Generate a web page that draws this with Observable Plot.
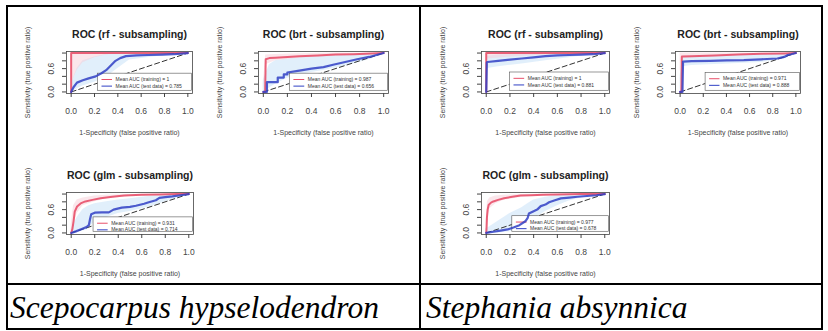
<!DOCTYPE html>
<html>
<head>
<meta charset="utf-8">
<script src="https://cdn.jsdelivr.net/npm/d3@7"></script>
<script src="https://cdn.jsdelivr.net/npm/@observablehq/plot@0.6"></script>
<style>
  html, body { margin: 0; padding: 0; background: #fff; }
  body { width: 828px; height: 331px; position: relative; overflow: hidden; font-family: "Liberation Sans", Arial, sans-serif; }
  .panel { position: absolute; }
  .panel svg { overflow: visible; }
  .hline, .vline { position: absolute; background: #000; }
  .caption { position: absolute; font-family: "Liberation Serif", "Times New Roman", serif; font-style: italic; font-size: 31.5px; line-height: 1; color: #000; white-space: nowrap; }
</style>
</head>
<body>
<div id="root"></div>
<script>
// ---------- text ----------
const species = ["Scepocarpus hypselodendron", "Stephania absynnica"];
const models = ["rf", "brt", "glm"];
const xAxisTitle = "1-Specificity (false positive ratio)";
const yAxisTitle = "Sensitivity (true positive ratio)";
const legendLabels = ["Mean AUC (training) = ", "Mean AUC (test data) = "];
const aucTrain = ["1", "0.987", "0.931", "1", "0.971", "0.977"];
const aucTest = ["0.785", "0.656", "0.714", "0.881", "0.888", "0.678"];

// ---------- ticks ----------
const xTicks = [0, 0.2, 0.4, 0.6, 0.8, 1.0];
const yTicks = [0, 0.2, 0.4, 0.6, 0.8, 1.0];
const yTickLabelValues = [0, 0.6];

// chance line
const chanceFpr = [0, 1];
const chanceTpr = [0, 1];

// ---------- Scepocarpus hypselodendron : rf ----------
const sceRfTrainFpr = [0, 0, 1];
const sceRfTrainTpr = [0, 1, 1];
const sceRfTestFpr = [0, 0.02, 0.05, 0.1, 0.15, 0.21, 0.26, 0.3, 0.34, 0.38, 0.42, 0.47, 0.56, 0.66, 0.78, 0.88, 1];
const sceRfTestTpr = [0, 0.12, 0.24, 0.3, 0.35, 0.4, 0.48, 0.56, 0.68, 0.8, 0.87, 0.92, 0.94, 0.95, 0.96, 0.97, 1];
const sceRfTrainBandFpr = [0, 0.05, 0.1, 0.2, 0.3, 0.4];
const sceRfTrainBandLo = [0.2, 0.55, 0.75, 0.88, 0.95, 1];
const sceRfTrainBandHi = [1, 1, 1, 1, 1, 1];
const sceRfTestBandFpr = [0, 0.05, 0.1, 0.2, 0.3, 0.4, 0.5, 0.7, 1];
const sceRfTestBandLo = [0, 0.08, 0.15, 0.25, 0.38, 0.6, 0.82, 0.9, 1];
const sceRfTestBandHi = [0.2, 0.6, 0.8, 0.9, 0.96, 1, 1, 1, 1];

// ---------- Scepocarpus hypselodendron : brt ----------
const sceBrtTrainFpr = [0, 0.015, 0.02, 0.05, 0.1, 0.2, 0.3, 0.45, 0.6, 0.75, 0.9, 1];
const sceBrtTrainTpr = [0, 0, 0.84, 0.87, 0.88, 0.9, 0.92, 0.94, 0.96, 0.97, 0.99, 1];
const sceBrtTestFpr = [0, 0.03, 0.03, 0.12, 0.12, 0.17, 0.17, 0.2, 0.2, 0.3, 0.4, 0.5, 0.58, 0.68, 0.78, 0.88, 1];
const sceBrtTestTpr = [0, 0, 0.25, 0.25, 0.37, 0.37, 0.45, 0.45, 0.5, 0.55, 0.6, 0.64, 0.7, 0.77, 0.84, 0.9, 1];
const sceBrtTrainBandFpr = [0, 0.02, 0.1, 0.3, 0.6, 1];
const sceBrtTrainBandLo = [0, 0.7, 0.8, 0.87, 0.92, 1];
const sceBrtTrainBandHi = [0.2, 0.95, 0.96, 0.98, 1, 1];
const sceBrtTestBandFpr = [0, 0.05, 0.1, 0.2, 0.3, 0.5, 0.7, 0.9, 1];
const sceBrtTestBandLo = [0, 0.1, 0.2, 0.35, 0.45, 0.55, 0.68, 0.85, 1];
const sceBrtTestBandHi = [0.3, 0.7, 0.8, 0.85, 0.88, 0.92, 0.95, 0.98, 1];

// ---------- Scepocarpus hypselodendron : glm ----------
const sceGlmTrainFpr = [0, 0.01, 0.02, 0.03, 0.05, 0.08, 0.12, 0.18, 0.25, 0.35, 0.45, 0.6, 0.75, 0.9, 1];
const sceGlmTrainTpr = [0, 0.1, 0.3, 0.55, 0.68, 0.76, 0.81, 0.85, 0.89, 0.93, 0.96, 0.98, 0.99, 1, 1];
const sceGlmTestFpr = [0, 0.04, 0.09, 0.13, 0.15, 0.16, 0.17, 0.2, 0.26, 0.32, 0.36, 0.43, 0.5, 0.55, 0.62, 0.66, 0.72, 0.75, 0.8, 0.86, 0.93, 1];
const sceGlmTestTpr = [0, 0.04, 0.1, 0.15, 0.2, 0.35, 0.48, 0.52, 0.53, 0.53, 0.6, 0.65, 0.67, 0.7, 0.75, 0.79, 0.84, 0.9, 0.92, 0.94, 0.97, 1];
const sceGlmTrainBandFpr = [0, 0.02, 0.05, 0.1, 0.2, 0.3, 0.5, 1];
const sceGlmTrainBandLo = [0, 0.2, 0.5, 0.7, 0.8, 0.88, 0.94, 1];
const sceGlmTrainBandHi = [0.2, 0.7, 0.85, 0.9, 0.95, 0.97, 0.99, 1];
const sceGlmTestBandFpr = [0, 0.05, 0.1, 0.15, 0.2, 0.3, 0.4, 0.5, 0.6, 0.7, 0.8, 0.9, 1];
const sceGlmTestBandLo = [0, 0.02, 0.05, 0.1, 0.3, 0.4, 0.5, 0.55, 0.62, 0.7, 0.8, 0.9, 1];
const sceGlmTestBandHi = [0.1, 0.4, 0.6, 0.7, 0.75, 0.8, 0.85, 0.88, 0.92, 0.95, 0.97, 0.99, 1];

// ---------- Stephania absynnica : rf ----------
const steRfTrainFpr = [0, 0, 1];
const steRfTrainTpr = [0, 1, 1];
const steRfTestFpr = [0, 0.005, 0.01, 0.1, 0.2, 0.3, 0.4, 0.5, 0.6, 0.7, 0.8, 0.9, 1];
const steRfTestTpr = [0, 0.76, 0.77, 0.8, 0.83, 0.86, 0.89, 0.92, 0.94, 0.95, 0.96, 0.97, 1];
const steRfTrainBandFpr = [0, 0.01, 0.3, 0.6, 1];
const steRfTrainBandLo = [0.7, 0.85, 0.92, 0.97, 1];
const steRfTrainBandHi = [1, 1, 1, 1, 1];
const steRfTestBandFpr = [0, 0.01, 0.1, 0.3, 0.5, 0.7, 1];
const steRfTestBandLo = [0, 0.6, 0.65, 0.72, 0.8, 0.88, 1];
const steRfTestBandHi = [0.5, 0.92, 0.95, 0.98, 1, 1, 1];

// ---------- Stephania absynnica : brt ----------
const steBrtTrainFpr = [0, 0.01, 0.015, 0.1, 0.3, 0.5, 0.7, 0.9, 1];
const steBrtTrainTpr = [0, 0, 0.91, 0.92, 0.94, 0.96, 0.98, 0.99, 1];
const steBrtTestFpr = [0, 0.02, 0.025, 0.1, 0.26, 0.4, 0.55, 0.7, 0.84, 0.9, 0.93, 0.96, 1];
const steBrtTestTpr = [0, 0, 0.78, 0.79, 0.8, 0.81, 0.82, 0.84, 0.86, 0.9, 0.95, 0.97, 1];
const steBrtTrainBandFpr = [0, 0.015, 0.2, 0.5, 1];
const steBrtTrainBandLo = [0.5, 0.86, 0.9, 0.94, 1];
const steBrtTrainBandHi = [1, 1, 1, 1, 1];
const steBrtTestBandFpr = [0, 0.02, 0.1, 0.4, 0.7, 0.9, 1];
const steBrtTestBandLo = [0, 0.65, 0.68, 0.72, 0.76, 0.85, 1];
const steBrtTestBandHi = [0.4, 0.92, 0.93, 0.95, 0.97, 0.99, 1];

// ---------- Stephania absynnica : glm ----------
const steGlmTrainFpr = [0, 0.003, 0.006, 0.012, 0.02, 0.04, 0.06, 0.1, 0.15, 0.22, 0.29, 0.38, 0.48, 0.6, 0.8, 1];
const steGlmTrainTpr = [0, 0.15, 0.4, 0.6, 0.72, 0.78, 0.81, 0.85, 0.89, 0.93, 0.96, 0.97, 0.98, 0.99, 1, 1];
const steGlmTestFpr = [0, 0.06, 0.12, 0.18, 0.23, 0.28, 0.33, 0.35, 0.36, 0.4, 0.43, 0.46, 0.5, 0.53, 0.58, 0.63, 0.7, 0.77, 0.85, 0.93, 1];
const steGlmTestTpr = [0, 0.03, 0.06, 0.09, 0.14, 0.2, 0.3, 0.39, 0.5, 0.56, 0.6, 0.69, 0.73, 0.79, 0.84, 0.89, 0.91, 0.93, 0.95, 0.97, 1];
const steGlmTrainBandFpr = [0, 0.01, 0.03, 0.08, 0.15, 0.3, 0.5, 1];
const steGlmTrainBandLo = [0, 0.35, 0.62, 0.75, 0.84, 0.92, 0.96, 1];
const steGlmTrainBandHi = [0.3, 0.8, 0.9, 0.95, 0.97, 0.99, 1, 1];
const steGlmTestBandFpr = [0, 0.1, 0.2, 0.3, 0.35, 0.4, 0.5, 0.6, 0.7, 0.8, 0.9, 1];
const steGlmTestBandLo = [0, 0, 0.03, 0.1, 0.2, 0.35, 0.55, 0.7, 0.82, 0.9, 0.95, 1];
const steGlmTestBandHi = [0.1, 0.3, 0.5, 0.65, 0.75, 0.85, 0.92, 0.96, 0.98, 0.99, 1, 1];

// ---------- build ----------
const pts = (xs, ys) => xs.map((x, i) => ({x, y: ys[i]}));
const band = (xs, lo, hi) => xs.map((x, i) => ({x, lo: lo[i], hi: hi[i]}));

const panels = [
  {sp: 0, m: 0, train: pts(sceRfTrainFpr, sceRfTrainTpr), test: pts(sceRfTestFpr, sceRfTestTpr),
   trainBand: band(sceRfTrainBandFpr, sceRfTrainBandLo, sceRfTrainBandHi), testBand: band(sceRfTestBandFpr, sceRfTestBandLo, sceRfTestBandHi)},
  {sp: 0, m: 1, train: pts(sceBrtTrainFpr, sceBrtTrainTpr), test: pts(sceBrtTestFpr, sceBrtTestTpr),
   trainBand: band(sceBrtTrainBandFpr, sceBrtTrainBandLo, sceBrtTrainBandHi), testBand: band(sceBrtTestBandFpr, sceBrtTestBandLo, sceBrtTestBandHi)},
  {sp: 0, m: 2, train: pts(sceGlmTrainFpr, sceGlmTrainTpr), test: pts(sceGlmTestFpr, sceGlmTestTpr),
   trainBand: band(sceGlmTrainBandFpr, sceGlmTrainBandLo, sceGlmTrainBandHi), testBand: band(sceGlmTestBandFpr, sceGlmTestBandLo, sceGlmTestBandHi)},
  {sp: 1, m: 0, train: pts(steRfTrainFpr, steRfTrainTpr), test: pts(steRfTestFpr, steRfTestTpr),
   trainBand: band(steRfTrainBandFpr, steRfTrainBandLo, steRfTrainBandHi), testBand: band(steRfTestBandFpr, steRfTestBandLo, steRfTestBandHi)},
  {sp: 1, m: 1, train: pts(steBrtTrainFpr, steBrtTrainTpr), test: pts(steBrtTestFpr, steBrtTestTpr),
   trainBand: band(steBrtTrainBandFpr, steBrtTrainBandLo, steBrtTrainBandHi), testBand: band(steBrtTestBandFpr, steBrtTestBandLo, steBrtTestBandHi)},
  {sp: 1, m: 2, train: pts(steGlmTrainFpr, steGlmTrainTpr), test: pts(steGlmTestFpr, steGlmTestTpr),
   trainBand: band(steGlmTrainBandFpr, steGlmTrainBandLo, steGlmTrainBandHi), testBand: band(steGlmTestBandFpr, steGlmTestBandLo, steGlmTestBandHi)}
];

// layout (pixel box of each panel frame)
const boxes = [
  {left: 66, top: 51, w: 126}, {left: 258, top: 51, w: 130}, {left: 66, top: 192, w: 127},
  {left: 481, top: 51, w: 128}, {left: 675, top: 51, w: 125}, {left: 481, top: 192, w: 128}
];
const legendPos = [
  {x1: 0.23, top: 0.47}, {x1: 0.22, top: 0.47}, {x1: 0.19, top: 0.4},
  {x1: 0.2, top: 0.5}, {x1: 0.22, top: 0.49}, {x1: 0.22, top: 0.43}
];
const ML = 50, MR = 15, MT = 40, MB = 50, FH = 42;
const RED = "#e8506a", BLUE = "#3040c4";

const root = document.getElementById("root");

panels.forEach((p, i) => {
  const b = boxes[i], lg = legendPos[i];
  const legendRows = [
    {label: legendLabels[0] + aucTrain[i], y: lg.top - 0.15},
    {label: legendLabels[1] + aucTest[i], y: lg.top - 0.32}
  ];
  const chart = Plot.plot({
    width: ML + b.w + MR,
    height: MT + FH + MB,
    marginLeft: ML, marginRight: MR, marginTop: MT, marginBottom: MB,
    style: {background: "transparent", fontFamily: "'Liberation Sans', Arial, sans-serif", overflow: "visible"},
    x: {domain: [-0.04, 1.04]},
    y: {domain: [-0.04, 1.04]},
    marks: [
      Plot.areaY(p.testBand, {x: "x", y1: "lo", y2: "hi", fill: "#cde4f8", fillOpacity: 0.6}),
      Plot.areaY(p.trainBand, {x: "x", y1: "lo", y2: "hi", fill: "#f8cdd7", fillOpacity: 0.5}),
      Plot.line(pts(chanceFpr, chanceTpr), {x: "x", y: "y", stroke: "#333", strokeWidth: 1, strokeDasharray: "5,3"}),
      Plot.rect([lg], {x1: "x1", x2: 1.035, y1: 0.03, y2: "top", fill: "#fff", stroke: "#555", strokeWidth: 0.6}),
      Plot.link(legendRows.slice(0, 1), {x1: lg.x1 + 0.03, x2: lg.x1 + 0.12, y1: "y", y2: "y", stroke: RED, strokeWidth: 1}),
      Plot.link(legendRows.slice(1), {x1: lg.x1 + 0.03, x2: lg.x1 + 0.12, y1: "y", y2: "y", stroke: BLUE, strokeWidth: 1}),
      Plot.text(legendRows, {x: lg.x1 + 0.15, y: "y", text: "label", textAnchor: "start", fontSize: 5, fill: "#333"}),
      Plot.line(p.train, {x: "x", y: "y", stroke: RED, strokeWidth: 2, strokeOpacity: 0.9}),
      Plot.line(p.test, {x: "x", y: "y", stroke: BLUE, strokeWidth: 2.2, strokeOpacity: 0.85}),
      Plot.frame({stroke: "#444", strokeWidth: 0.8}),
      Plot.axisX({ticks: xTicks, tickFormat: d => d.toFixed(1), tickSize: 4, tickPadding: 10, fontSize: 8.5, color: "#444", label: null}),
      Plot.axisY({ticks: yTicks, tickFormat: d => yTickLabelValues.includes(d) ? d.toFixed(1) : "", tickSize: 4, tickPadding: 9, tickRotate: -90, fontSize: 8.5, color: "#444", label: null}),
      Plot.text(["ROC (" + models[p.m] + " - subsampling)"], {frameAnchor: "top", text: d => d, dy: -21, fontSize: 10.5, fontWeight: "bold", fill: "#222"}),
      Plot.text([xAxisTitle], {frameAnchor: "bottom", text: d => d, dy: 41, fontSize: 7, fill: "#444"}),
      Plot.text([yAxisTitle], {frameAnchor: "left", text: d => d, textAnchor: "middle", dx: -39, rotate: -90, fontSize: 7, fill: "#444"})
    ]
  });
  const div = document.createElement("div");
  div.className = "panel";
  div.style.left = (b.left - ML) + "px";
  div.style.top = (b.top - MT) + "px";
  div.appendChild(chart);
  root.appendChild(div);
});

// ---------- table grid ----------
function line(cls, l, t, w, h) {
  const d = document.createElement("div");
  d.className = cls;
  Object.assign(d.style, {left: l + "px", top: t + "px", width: w + "px", height: h + "px"});
  document.body.appendChild(d);
}
line("hline", 6, 5, 817, 1.5);      // top
line("hline", 6, 283, 817, 1.5);    // row divider
line("hline", 6, 328, 817, 1.5);    // bottom
line("vline", 6, 5, 2, 325);        // left
line("vline", 419, 5, 2, 325);      // middle
line("vline", 821, 5, 2, 325);      // right

// captions
[{x: 10}, {x: 426}].forEach((c, i) => {
  const d = document.createElement("div");
  d.className = "caption";
  d.textContent = species[i];
  d.style.left = c.x + "px";
  d.style.top = "292px";
  document.body.appendChild(d);
});
</script>
</body>
</html>
